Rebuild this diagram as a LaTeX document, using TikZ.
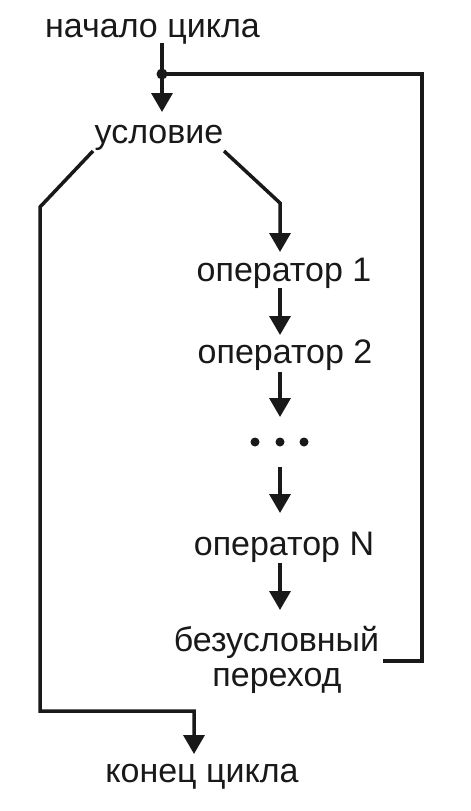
\documentclass[tikz,border=0pt]{standalone}
\usepackage{fontspec}
\setmainfont{Liberation Sans}
\usetikzlibrary{arrows.meta}
\begin{document}
\begin{tikzpicture}[x=1pt,y=-1pt,
  line/.style={line width=3.5pt, draw=black!90},
  arr/.style={line, -{Triangle[length=19pt,width=21pt]}},
  lbl/.style={anchor=base, inner sep=0pt, font=\fontsize{34}{36}\selectfont, text=black!90},
  dotmark/.style={circle, fill=black!90, inner sep=0pt, minimum size=#1}]
\useasboundingbox (0,0) rectangle (471,811);
% texts
\node[lbl] (start) at (152.5,37) {начало цикла};
\node[lbl] (cond) at (159,143) {условие};
\node[lbl] (op1) at (284,281) {оператор 1};
\node[lbl] (op2) at (285,363) {оператор 2};
\node[lbl] (opN) at (284,555) {оператор N};
\node[lbl] (jmp1) at (276.5,651) {безусловный};
\node[lbl] (jmp2) at (277,686) {переход};
\node[lbl] (end) at (202,782) {конец цикла};
% coordinates
\coordinate (s0) at (162,43);
\coordinate (j0) at (162,74);
\coordinate (c0) at (162,112);
\coordinate (cl) at (93,151);
\coordinate (cl1) at (40,207);
\coordinate (cl2) at (40,711);
\coordinate (cl3) at (194,711);
\coordinate (e0) at (194,754);
\coordinate (cr) at (224,151);
\coordinate (cr1) at (280,203);
\coordinate (o1in) at (280,252);
\coordinate (o1out) at (280,288);
\coordinate (o2in) at (280,335);
\coordinate (o2out) at (280,372);
\coordinate (dtin) at (280,417);
\coordinate (dtout) at (280,467);
\coordinate (oNin) at (280,513);
\coordinate (oNout) at (280,563);
\coordinate (jin) at (280,610);
\coordinate (jout) at (383,661);
\coordinate (rb) at (422,661);
\coordinate (rt) at (422,74);
% dots
\node[dotmark=9pt] (dt1) at (255,442) {};
\node[dotmark=9pt] (dt2) at (280,442) {};
\node[dotmark=9pt] (dt3) at (304,442) {};
% connectors
\draw[arr] (s0) -- (c0);
\draw[line] (jout) -- (rb) -- (rt) -- (j0);
\node[dotmark=11pt] (jdot) at (j0) {};
\draw[arr] (cl) -- (cl1) -- (cl2) -- (cl3) -- (e0);
\draw[arr] (cr) -- (cr1) -- (o1in);
\draw[arr] (o1out) -- (o2in);
\draw[arr] (o2out) -- (dtin);
\draw[arr] (dtout) -- (oNin);
\draw[arr] (oNout) -- (jin);
\end{tikzpicture}
\end{document}
